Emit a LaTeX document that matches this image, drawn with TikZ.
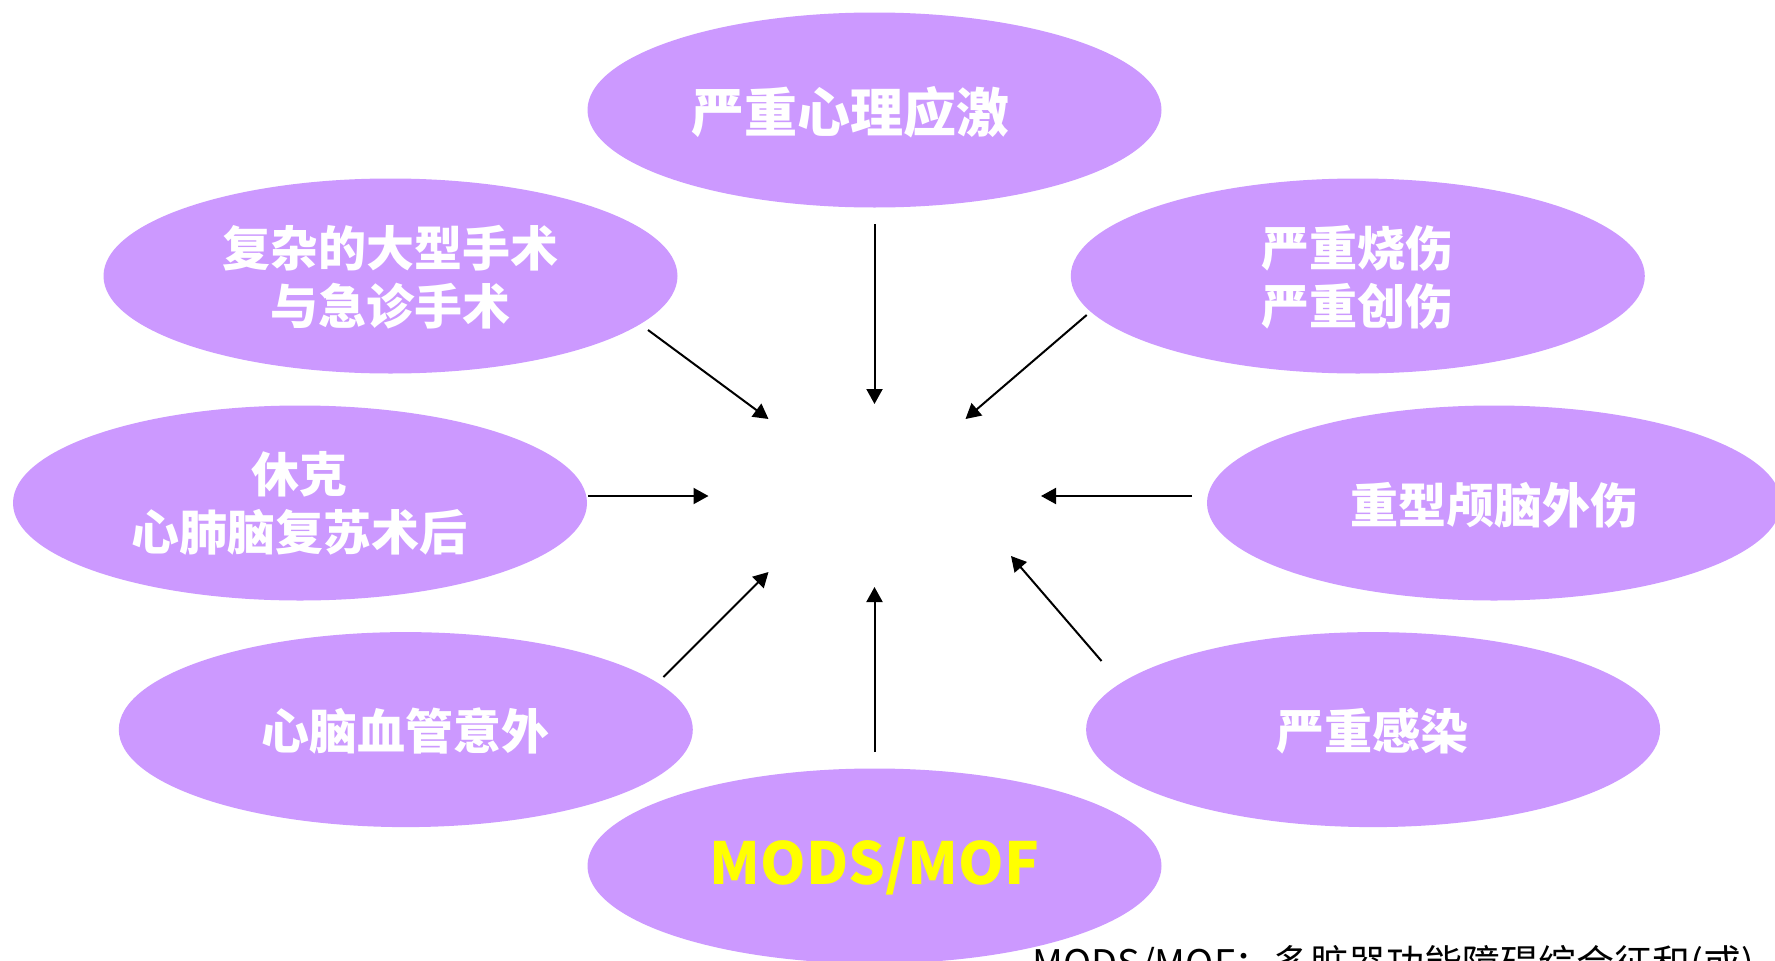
\documentclass[tikz,border=0pt]{standalone}
\usepackage{fontspec}
\newfontfamily\cjk{Noto Sans CJK SC}
\usetikzlibrary{shapes.geometric,arrows.meta}
\definecolor{ellfill}{RGB}{204,153,255}
\definecolor{modsyellow}{RGB}{255,255,0}
\tikzset{
  ell/.style={ellipse, fill=ellfill, draw=none, minimum width=574pt, minimum height=195pt, inner sep=0pt},
  lbl/.style={text=white, align=center, font=\cjk\bfseries\fontsize{48}{58}\selectfont, inner sep=0pt},
  arr/.style={draw=black, line width=2pt, -{Triangle[length=15pt,width=16pt]}},
}
\begin{document}
\begin{tikzpicture}[x=1pt,y=-1pt]
\useasboundingbox (0,0) rectangle (1775,961);
\clip (0,0) rectangle (1775,961);
\fill[white] (0,0) rectangle (1775,961);
% ellipses
\node[ell] (e1) at (874.5,110) {};
\node[ell] (e2) at (390.5,276) {};
\node[ell] (e3) at (1357.8,276) {};
\node[ell] (e4) at (300,503) {};
\node[ell] (e5) at (1494,503) {};
\node[ell] (e6) at (405.8,729.6) {};
\node[ell] (e7) at (1373.1,729.6) {};
\node[ell] (e8) at (874.5,866) {};
% labels
\node[lbl, font=\cjk\bfseries\fontsize{53}{60}\selectfont] (t1) at (850,112) {严重心理应激};
\node[lbl] (t2) at (390.5,277) {复杂的大型手术\\与急诊手术};
\node[lbl] (t3) at (1357.8,277) {严重烧伤\\严重创伤};
\node[lbl] (t4) at (299,503) {休克\\心肺脑复苏术后};
\node[lbl] (t5) at (1494,505) {重型颅脑外伤};
\node[lbl] (t6) at (405.8,731) {心脑血管意外};
\node[lbl] (t7) at (1372.6,731) {严重感染};
\node[lbl, text=modsyellow, font=\cjk\bfseries\fontsize{58}{60}\selectfont] (t8) at (874.5,866) {MODS/MOF};
% caption
\node[anchor=base west, inner sep=0pt, font=\cjk\fontsize{38}{44}\selectfont] (cap) at (1032,977) {MODS/MOF：多脏器功能障碍综合征和(或)};
% arrow ends
\coordinate (s1) at (874.5,224);   \coordinate (c1) at (874.5,404);
\coordinate (s2) at (648,330);     \coordinate (c2) at (768.5,419);
\coordinate (s3) at (1086.7,315);  \coordinate (c3) at (965.5,419);
\coordinate (s4) at (588,496);     \coordinate (c4) at (708.5,496);
\coordinate (s5) at (1192,496);    \coordinate (c5) at (1041,496);
\coordinate (s6) at (663.4,677);   \coordinate (c6) at (768.5,572);
\coordinate (s7) at (874.5,752);   \coordinate (c7) at (874.5,587);
\coordinate (s8) at (1101.5,661);  \coordinate (c8) at (1011,556);
\foreach \i in {1,...,8} { \draw[arr] (s\i) -- (c\i); }
\end{tikzpicture}
\end{document}
